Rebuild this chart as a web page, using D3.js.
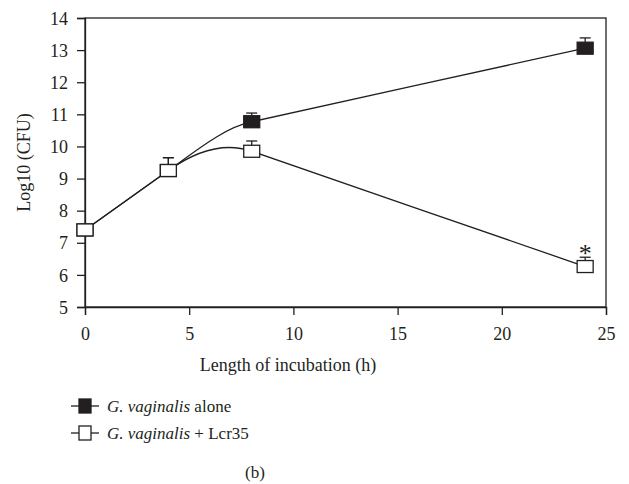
<!DOCTYPE html>
<html>
<head>
<meta charset="utf-8">
<script src="https://cdn.jsdelivr.net/npm/d3@7"></script>
<style>
  body { margin: 0; background: #fff; }
  svg text, svg g { font-family: "Liberation Serif", "DejaVu Serif", serif; }
  svg text { fill: #231f20; }
</style>
</head>
<body>
<div id="chart"></div>
<script>
var hours = [0, 4, 8, 24];
var aloneMean = [7.4, 9.25, 10.77, 13.06];
var aloneErr = [0.15, 0.4, 0.27, 0.32];
var lcrMean = [7.4, 9.25, 9.85, 6.26];
var lcrErr = [0.15, 0.4, 0.32, 0.29];
var xTicks = [0, 5, 10, 15, 20, 25];
var yTicks = [5, 6, 7, 8, 9, 10, 11, 12, 13, 14];

var width = 629, height = 484;
var svg = d3.select("#chart").append("svg")
    .attr("width", width)
    .attr("height", height);

var x = d3.scaleLinear().domain([0, 25]).range([85, 606]);
var y = d3.scaleLinear().domain([5, 14]).range([307, 18]);
var ink = "#231f20";

// spline: each point takes the slope of its longer neighbouring segment
function LongSideCurve(context) { this._context = context; }
LongSideCurve.prototype = {
    areaStart: function() {}, areaEnd: function() {},
    lineStart: function() { this._px = []; this._py = []; },
    point: function(px, py) { this._px.push(+px); this._py.push(+py); },
    lineEnd: function() {
        var px = this._px, py = this._py, n = px.length, c = this._context;
        if (!n) return;
        var d = [], len = [], m = [];
        for (var k = 0; k < n - 1; k++) {
            len.push(px[k + 1] - px[k]);
            d.push((py[k + 1] - py[k]) / (px[k + 1] - px[k]));
        }
        for (var i = 0; i < n; i++) {
            if (i === 0) m.push(d[0]);
            else if (i === n - 1) m.push(d[n - 2]);
            else m.push(len[i] > len[i - 1] ? d[i] : d[i - 1]);
        }
        c.moveTo(px[0], py[0]);
        for (var j = 0; j < n - 1; j++) {
            var h = len[j] / 3;
            c.bezierCurveTo(px[j] + h, py[j] + m[j] * h,
                            px[j + 1] - h, py[j + 1] - m[j + 1] * h,
                            px[j + 1], py[j + 1]);
        }
    }
};
var longSide = function(context) { return new LongSideCurve(context); };

// frame
svg.append("rect")
    .attr("x", x(0)).attr("y", y(14))
    .attr("width", x(25) - x(0)).attr("height", y(5) - y(14))
    .attr("fill", "none").attr("stroke", ink).attr("stroke-width", 1.3);

var xAxis = svg.append("g")
    .attr("transform", "translate(0," + y(5) + ")")
    .call(d3.axisBottom(x).tickValues(xTicks).tickSize(8).tickPadding(12));
var yAxis = svg.append("g")
    .attr("transform", "translate(" + x(0) + ",0)")
    .call(d3.axisLeft(y).tickValues(yTicks).tickSize(8).tickPadding(9));
[xAxis, yAxis].forEach(function(a) {
    a.attr("font-family", "Liberation Serif").attr("font-size", 18);
    a.select(".domain").attr("stroke", ink).attr("stroke-width", 1.3);
    a.selectAll(".tick line").attr("stroke", ink).attr("stroke-width", 1.3);
    a.selectAll(".tick text").attr("fill", ink);
});
yAxis.selectAll(".tick text").attr("dy", "0.34em");

svg.append("text")
    .attr("x", 288).attr("y", 371)
    .attr("text-anchor", "middle").attr("font-size", 18)
    .text("Length of incubation (h)");
svg.append("text")
    .attr("transform", "translate(30," + y(9.5) + ") rotate(-90)")
    .attr("text-anchor", "middle").attr("font-size", 18)
    .text("Log10 (CFU)");

var series = [
    {mean: aloneMean, err: aloneErr, fill: ink},
    {mean: lcrMean, err: lcrErr, fill: "#fff"}
];

var line = d3.line()
    .x(function(d) { return x(d[0]); })
    .y(function(d) { return y(d[1]); })
    .curve(longSide);

series.forEach(function(s) {
    var pts = hours.map(function(h, i) { return [h, s.mean[i]]; });
    svg.append("path")
        .attr("d", line(pts))
        .attr("fill", "none").attr("stroke", ink).attr("stroke-width", 1.3);
});

series.forEach(function(s) {
    hours.forEach(function(h, i) {
        var cx = x(h), top = y(s.mean[i] + s.err[i]);
        svg.append("line")
            .attr("x1", cx).attr("x2", cx)
            .attr("y1", y(s.mean[i])).attr("y2", top)
            .attr("stroke", ink).attr("stroke-width", 1.3);
        svg.append("line")
            .attr("x1", cx - 5.5).attr("x2", cx + 5.5)
            .attr("y1", top).attr("y2", top)
            .attr("stroke", ink).attr("stroke-width", 1.3);
    });
});

series.forEach(function(s) {
    svg.selectAll(null)
        .data(hours.map(function(h, i) { return [h, s.mean[i]]; }))
        .enter().append("rect")
        .attr("x", function(d) { return x(d[0]) - 8; })
        .attr("y", function(d) { return y(d[1]) - 6; })
        .attr("width", 16).attr("height", 12)
        .attr("fill", s.fill).attr("stroke", ink).attr("stroke-width", 1.3);
});

// significance marker
svg.append("text")
    .attr("x", x(24)).attr("y", y(lcrMean[3] + lcrErr[3]) + 5)
    .attr("text-anchor", "middle").attr("font-size", 26)
    .text("*");

// legend
var legendLabels = [
    {name: "G. vaginalis", rest: " alone", fill: ink},
    {name: "G. vaginalis", rest: " + Lcr35", fill: "#fff"}
];
legendLabels.forEach(function(l, i) {
    var ly = 406 + i * 27;
    svg.append("line")
        .attr("x1", 71).attr("x2", 99).attr("y1", ly).attr("y2", ly)
        .attr("stroke", ink).attr("stroke-width", 1.3);
    svg.append("rect")
        .attr("x", 79).attr("y", ly - 7).attr("width", 12).attr("height", 14)
        .attr("fill", l.fill).attr("stroke", ink).attr("stroke-width", 1.3);
    var t = svg.append("text")
        .attr("x", 107).attr("y", ly + 6).attr("font-size", 17);
    t.append("tspan").attr("font-style", "italic").text(l.name);
    t.append("tspan").text(l.rest);
});

svg.append("text")
    .attr("x", 255).attr("y", 478)
    .attr("text-anchor", "middle").attr("font-size", 17)
    .text("(b)");
</script>
</body>
</html>
